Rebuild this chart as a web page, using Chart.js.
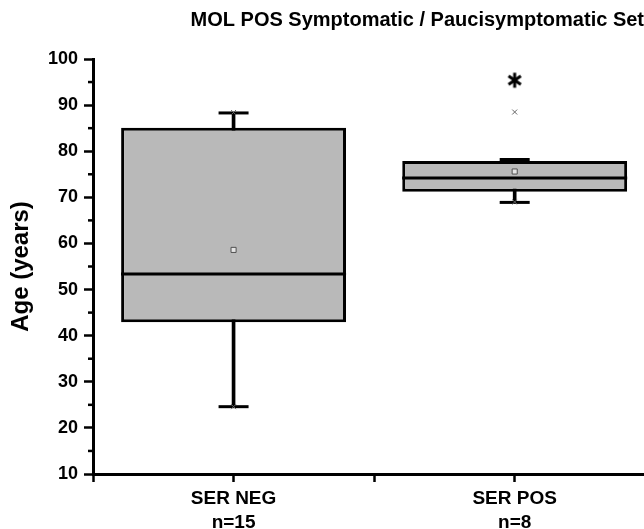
<!DOCTYPE html>
<html>
<head>
<meta charset="utf-8">
<script src="https://cdn.jsdelivr.net/npm/chart.js@4/dist/chart.umd.min.js"></script>
<style>
html, body { margin: 0; padding: 0; background: #fff; overflow: hidden; }
#wrap { width: 644px; height: 529px; }
</style>
</head>
<body>
<div id="wrap"><canvas id="chart" width="644" height="529"></canvas></div>
<script>
var categories = ['SER NEG', 'SER POS'];
var counts = [15, 8];
var whiskerLow = [24.6, 68.9];
var q1 = [42.9, 71.2];
var median = [53.4, 74.2];
var q3 = [85.1, 77.9];
var whiskerHigh = [88.3, 78.2];
var means = [58.6, 75.6];
var minMarks = [24.6, 69.0];
var maxMarks = [88.4, 88.5];
var extremes = [null, 95.4];
var yMajorTicks = [10, 20, 30, 40, 50, 60, 70, 80, 90, 100];
var yMinorTicks = [15, 25, 35, 45, 55, 65, 75, 85, 95];
var xTicks = [0.5, 1, 1.5, 2];

Chart.defaults.font.family = '"Liberation Sans", Arial, sans-serif';
Chart.defaults.color = '#000';

function pts(arr) {
    var out = [];
    arr.forEach(function(v, i){
        if (v !== null) out.push({x: i + 1, y: v});
    });
    return out;
}
function ranges(lo, hi) {
    return lo.map(function(v, i){ return {x: i + 1, y: [v, hi[i]]}; });
}

// six armed asterisk marker
function asteriskImage() {
    var c = document.createElement('canvas');
    c.width = 18; c.height = 18;
    var g = c.getContext('2d');
    g.strokeStyle = '#000';
    g.lineWidth = 3;
    g.lineCap = 'butt';
    [90, 35, 145].forEach(function(a){
        var r = a * Math.PI / 180;
        g.beginPath();
        g.moveTo(9 - Math.cos(r) * 7.5, 9 - Math.sin(r) * 7.5);
        g.lineTo(9 + Math.cos(r) * 7.5, 9 + Math.sin(r) * 7.5);
        g.stroke();
    });
    return c;
}

var minorTicks = {
    id: 'minorTicks',
    afterDraw: function(chart) {
        var ctx = chart.ctx, ys = chart.scales.y, x0 = chart.chartArea.left;
        ctx.save();
        ctx.strokeStyle = '#000';
        ctx.lineWidth = 2.5;
        yMinorTicks.forEach(function(v){
            var py = ys.getPixelForValue(v);
            ctx.beginPath();
            ctx.moveTo(x0 - 5, py);
            ctx.lineTo(x0, py);
            ctx.stroke();
        });
        ctx.restore();
    }
};

var ctx = document.getElementById('chart');
new Chart(ctx, {
    type: 'bar',
    data: {
        datasets: [
            {
                type: 'scatter', data: pts(median), pointStyle: 'line', pointRadius: 112.5,
                borderColor: '#000', borderWidth: 3, order: 1
            },
            {
                type: 'scatter', data: pts(means), pointStyle: 'rect', pointRadius: 3.6,
                backgroundColor: '#e4e4e4', borderColor: '#505050', borderWidth: 1, order: 0
            },
            {
                type: 'scatter', data: pts(whiskerLow).concat(pts(whiskerHigh)), pointStyle: 'line', pointRadius: 15,
                borderColor: '#000', borderWidth: 3, order: 4
            },
            {
                type: 'scatter', data: pts(minMarks).concat(pts(maxMarks)), pointStyle: 'crossRot', pointRadius: 3.5,
                borderColor: '#666', borderWidth: 1, order: 0
            },
            {
                type: 'scatter', data: pts(extremes), pointStyle: asteriskImage(), order: 0
            },
            {
                // tick spacing is half a category, so 1.6 of it = 0.8 of a category
                data: ranges(q1, q3), backgroundColor: '#b9b9b9', borderColor: '#000', borderWidth: 3,
                borderSkipped: false, barPercentage: 1.6, categoryPercentage: 1, grouped: false, order: 2
            },
            {
                data: ranges(whiskerLow, whiskerHigh), backgroundColor: '#000', borderWidth: 0,
                barThickness: 3, grouped: false, order: 5
            }
        ]
    },
    options: {
        responsive: false,
        animation: false,
        events: [],
        layout: {padding: 0, autoPadding: false},
        plugins: {
            legend: {display: false},
            tooltip: {enabled: false},
            title: {
                display: true,
                text: 'MOL POS Symptomatic / Paucisymptomatic Set',
                align: 'end',
                color: '#000',
                font: {size: 20, weight: 'bold'},
                padding: {top: 8, bottom: 27}
            }
        },
        scales: {
            x: {
                type: 'linear',
                min: 0.5,
                max: 2.46,
                offset: false,
                afterBuildTicks: function(scale) {
                    scale.ticks = xTicks.map(function(v){ return {value: v}; });
                },
                afterFit: function(scale) { scale.height = 55; },
                grid: {offset: false, drawOnChartArea: false, drawTicks: true, tickLength: 8, tickWidth: 2.5, tickColor: '#000'},
                border: {display: true, color: '#000', width: 3},
                ticks: {
                    autoSkip: false,
                    maxRotation: 0,
                    padding: 4,
                    color: '#000',
                    font: {size: 19, weight: 'bold', lineHeight: 1.3},
                    callback: function(v) {
                        var i = Math.round(v) - 1;
                        if (v !== i + 1 || !categories[i]) return '';
                        return [categories[i], 'n=' + counts[i]];
                    }
                }
            },
            y: {
                min: 10,
                max: 100,
                afterBuildTicks: function(scale) {
                    scale.ticks = yMajorTicks.map(function(v){ return {value: v}; });
                },
                afterFit: function(scale) { scale.width = 93; },
                grid: {drawOnChartArea: false, drawTicks: true, tickLength: 9, tickWidth: 2.5, tickColor: '#000'},
                border: {display: true, color: '#000', width: 3},
                ticks: {
                    padding: 6,
                    color: '#000',
                    font: {size: 18, weight: 'bold'}
                },
                title: {
                    display: true,
                    text: 'Age (years)',
                    color: '#000',
                    font: {size: 24, weight: 'bold'},
                    padding: {top: 7, bottom: 0}
                }
            }
        }
    },
    plugins: [minorTicks]
});
</script>
</body>
</html>
